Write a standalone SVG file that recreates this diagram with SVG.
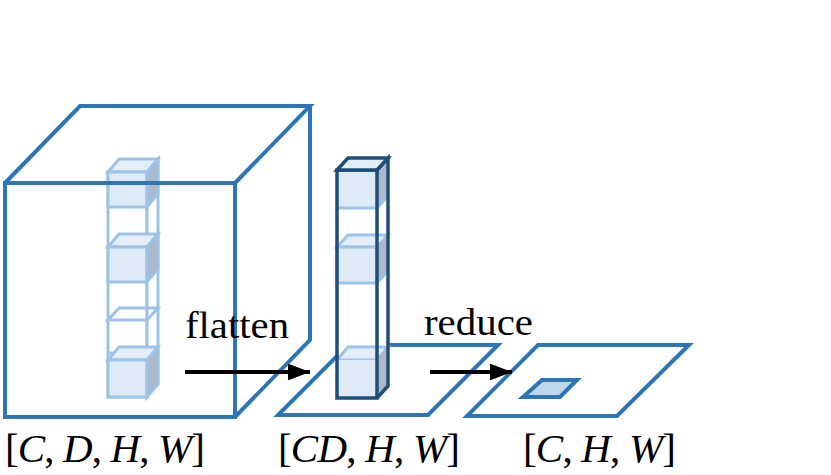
<svg xmlns="http://www.w3.org/2000/svg" width="831" height="475" viewBox="0 0 831 475">
<defs>
<style>
.main{fill:none;stroke:#2E75B6;stroke-width:4;stroke-linejoin:miter}
.lt{stroke:#9DC3E6;stroke-width:3;stroke-linejoin:miter}
.dk{stroke:#1F4E79;stroke-width:3.5;stroke-linejoin:miter}
.fF{fill:#DEEBF7}
.fS{fill:#ADB9CA}
.fT{fill:#E4EEF8}
.fW{fill:#FFFFFF}
.fN{fill:none}
.conn{stroke:#000;stroke-width:4;fill:none}
.lbl{font-family:'Liberation Serif','Times New Roman',serif;font-size:38px;fill:#000}
.dim{font-family:'Liberation Serif','Times New Roman',serif;font-size:41px;fill:#000}
.it{font-style:italic}
</style>
<marker id="ah" markerWidth="5.5" markerHeight="4.2" refX="5.5" refY="2.1" orient="auto" markerUnits="strokeWidth">
<path d="M0,0 L5.5,2.1 L0,4.2 Z" fill="#000"/>
</marker>
</defs>

<g id="column-input">
  <path class="lt fW" d="M108,172 H147 V397 H108 Z"/>
  <path class="lt fW" d="M147,172 L158,159 V384 L147,397 Z"/>
  <path class="lt fT" d="M108,172 L119,159 H158 L147,172 Z"/>
  <rect class="lt fF" x="108" y="172" width="39" height="35"/>
  <path class="lt fS" d="M147,172 L158,159 V194 L147,207 Z"/>
  <path class="lt fT" d="M108,247 L119,234 H158 L147,247 Z"/>
  <rect class="lt fF" x="108" y="247" width="39" height="35"/>
  <path class="lt fS" d="M147,247 L158,234 V269 L147,282 Z"/>
  <path class="lt fN" d="M108,320 L119,308 H158 L147,320 Z"/>
  <line class="lt" x1="108" y1="353" x2="147" y2="353"/>
  <path class="lt fT" d="M108,360 L119,347 H158 L147,360 Z"/>
  <rect class="lt fF" x="108" y="360" width="39" height="37"/>
  <path class="lt fS" d="M147,360 L158,347 V384 L147,397 Z"/>
</g>

<g id="cube-input">
  <rect class="main" x="5" y="183" width="230" height="234"/>
  <path class="main" d="M5,183 L80,106 H310 L235,183"/>
  <path class="main" d="M310,106 V340 L235,417"/>
</g>

<g id="slab-flatten">
  <path class="main" d="M278,415 H428 L498,345 H348 Z"/>
</g>

<g id="column-flatten">
  <rect class="fW" x="337" y="170" width="40" height="228"/>
  <path class="fW" d="M377,170 L388,158 V386 L377,398 Z"/>
  <rect class="fF" x="337" y="170" width="40" height="38"/>
  <path class="fS" d="M377,170 L388,158 V196 L377,208 Z"/>
  <line class="lt" x1="337" y1="208" x2="377" y2="208"/>
  <line class="lt" x1="377" y1="208" x2="388" y2="196"/>
  <path class="fT lt" d="M337,247 L348,235 H388 L377,247 Z"/>
  <rect class="fF lt" x="337" y="247" width="40" height="36"/>
  <path class="fS" d="M377,247 L388,235 V271 L377,283 Z"/>
  <line class="lt" x1="377" y1="283" x2="388" y2="271"/>
  <path class="fT lt" d="M337,360 L348,347 H388 L377,360 Z"/>
  <rect class="fF" x="337" y="360" width="40" height="38"/>
  <path class="fS" d="M377,360 L388,347 V386 L377,398 Z"/>
  <path class="dk fN" d="M337,170 H377 V398 H337 Z"/>
  <path class="dk fN" d="M377,170 L388,158 V386 L377,398"/>
  <path class="dk fT" d="M337,170 L348,158 H388 L377,170 Z"/>
</g>

<g id="slab-reduce">
  <path class="main" d="M467,416 H617 L689,345 H538 Z"/>
</g>

<g id="cell-reduce">
  <path class="main" style="fill:#BDD7EE" d="M523,397 H560 L577,380 H542 Z"/>
</g>

<g id="connectors">
  <line class="conn" x1="185" y1="372" x2="310" y2="372" marker-end="url(#ah)"/>
  <line class="conn" x1="430" y1="372" x2="512" y2="372" marker-end="url(#ah)"/>
</g>

<g id="labels">
  <text class="lbl" x="185" y="338" textLength="104" lengthAdjust="spacingAndGlyphs">flatten</text>
  <text class="lbl" x="424" y="335" textLength="109" lengthAdjust="spacingAndGlyphs">reduce</text>
  <text class="dim" x="5" y="462" textLength="200" lengthAdjust="spacing">[<tspan class="it">C</tspan>, <tspan class="it">D</tspan>, <tspan class="it">H</tspan>, <tspan class="it">W</tspan>]</text>
  <text class="dim" x="278" y="462" textLength="182" lengthAdjust="spacing">[<tspan class="it">CD</tspan>, <tspan class="it">H</tspan>, <tspan class="it">W</tspan>]</text>
  <text class="dim" x="523" y="462" textLength="153" lengthAdjust="spacing">[<tspan class="it">C</tspan>, <tspan class="it">H</tspan>, <tspan class="it">W</tspan>]</text>
</g>
</svg>
